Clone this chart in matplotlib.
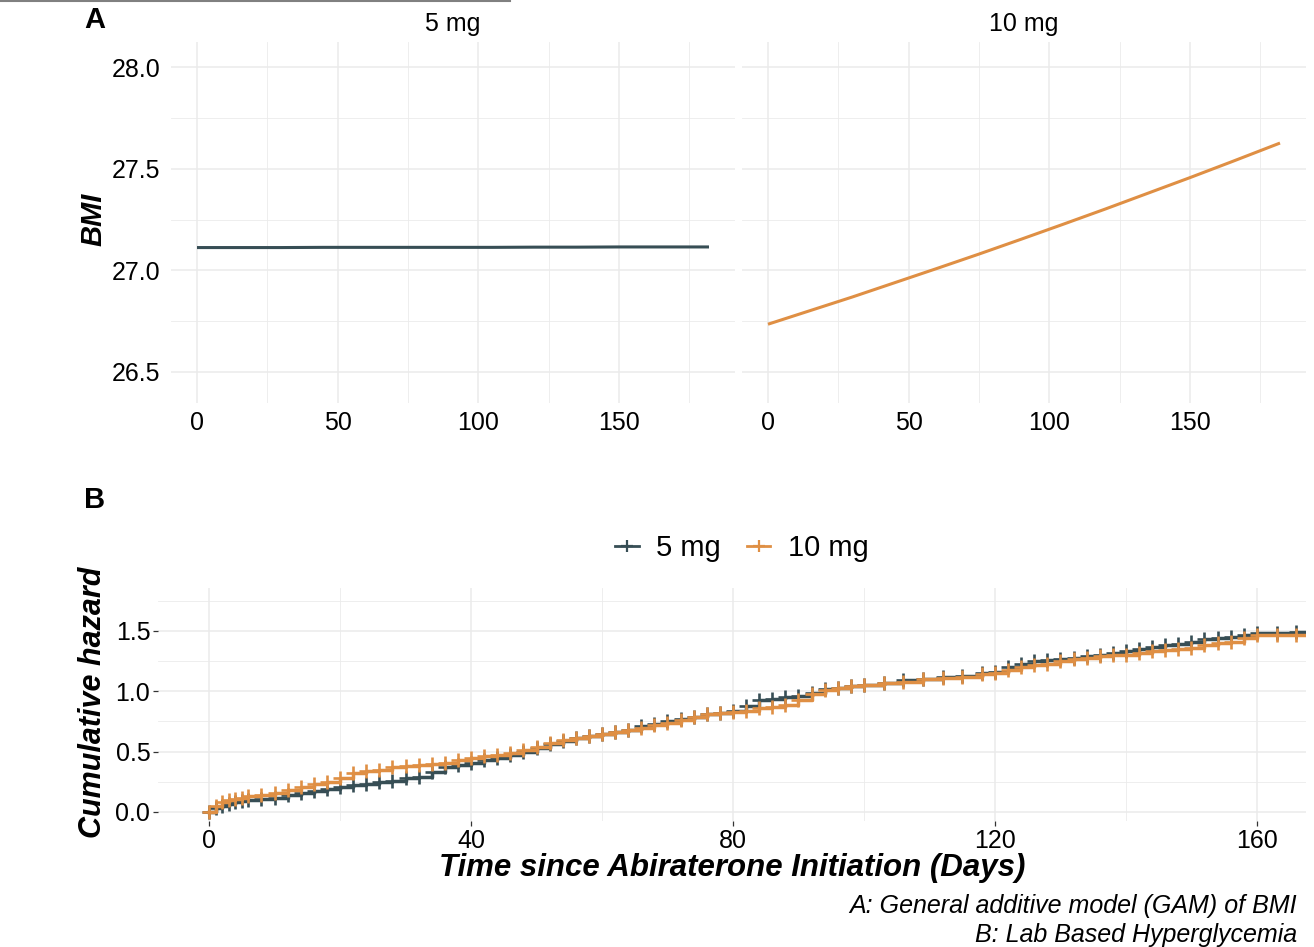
import matplotlib
matplotlib.use('Agg')
import matplotlib.pyplot as plt
from matplotlib.lines import Line2D

plt.rcParams['font.family'] = ['Liberation Sans', 'DejaVu Sans']

# ---------------- data ----------------
doses = ['5 mg', '10 mg']
colors = ['#374E55', '#DF8F44']

gam_days = [0, 15, 30, 45, 60, 75, 90, 105, 120, 135, 150, 165, 182]
bmi_5mg = [27.112, 27.112, 27.112, 27.113, 27.113, 27.113, 27.113, 27.113, 27.114,
           27.114, 27.115, 27.115, 27.115]
bmi_10mg = [26.735, 26.802, 26.869, 26.939, 27.009, 27.080, 27.153, 27.227, 27.302,
            27.379, 27.456, 27.535, 27.626]

haz_days = [0, 1, 2, 3, 4, 5, 6, 8, 10, 12, 14, 16, 18, 20, 22, 24, 26, 28, 30, 32,
            34, 36, 38, 40, 42, 44, 46, 48, 50, 52, 54, 56, 58, 60, 62, 64, 66, 68, 70,
            72, 74, 76, 78, 80, 82, 84, 86, 88, 90, 92, 94, 96, 98, 100, 103, 106, 109,
            112, 115, 118, 120, 122, 124, 126, 128, 130, 132, 134, 136, 138, 140, 142,
            144, 146, 148, 150, 152, 154, 156, 158, 160, 163, 166, 170]
haz_5mg = [0.00, 0.03, 0.05, 0.07, 0.08, 0.09, 0.10, 0.11, 0.12, 0.14, 0.16, 0.17, 0.19,
           0.21, 0.22, 0.23, 0.25, 0.26, 0.28, 0.29, 0.33, 0.37, 0.39, 0.41, 0.43, 0.45,
           0.47, 0.50, 0.53, 0.56, 0.59, 0.61, 0.63, 0.65, 0.66, 0.68, 0.71, 0.73, 0.75,
           0.77, 0.79, 0.81, 0.82, 0.84, 0.88, 0.93, 0.94, 0.95, 0.96, 0.99, 1.02, 1.03,
           1.04, 1.05, 1.07, 1.09, 1.10, 1.12, 1.13, 1.15, 1.16, 1.20, 1.23, 1.25, 1.26,
           1.27, 1.28, 1.29, 1.30, 1.32, 1.33, 1.35, 1.37, 1.38, 1.39, 1.41, 1.43, 1.44,
           1.45, 1.47, 1.48, 1.48, 1.49, 1.50]
haz_10mg = [0.00, 0.05, 0.08, 0.10, 0.11, 0.12, 0.13, 0.14, 0.16, 0.18, 0.21, 0.23, 0.25,
            0.28, 0.32, 0.34, 0.35, 0.37, 0.38, 0.39, 0.40, 0.41, 0.43, 0.45, 0.46, 0.47,
            0.49, 0.51, 0.54, 0.57, 0.60, 0.61, 0.63, 0.65, 0.66, 0.68, 0.70, 0.72, 0.74,
            0.76, 0.79, 0.81, 0.82, 0.83, 0.84, 0.86, 0.87, 0.89, 0.93, 0.98, 1.01, 1.03,
            1.04, 1.05, 1.07, 1.08, 1.10, 1.11, 1.12, 1.14, 1.15, 1.18, 1.20, 1.22, 1.23,
            1.25, 1.27, 1.28, 1.29, 1.30, 1.30, 1.32, 1.33, 1.34, 1.35, 1.36, 1.38, 1.40,
            1.41, 1.44, 1.47, 1.47, 1.47, 1.48]

a_xticks = [0, 50, 100, 150]
a_yticks = [26.5, 27.0, 27.5, 28.0]
b_xticks = [0, 40, 80, 120, 160]
b_yticks = [0.0, 0.5, 1.0, 1.5]

caption = ['A: General additive model (GAM) of BMI', 'B: Lab Based Hyperglycemia']

# ---------------- layout ----------------
W, H = 1314, 947
fig = plt.figure(figsize=(W / 100, H / 100), dpi=100)


def ax_at(x0, y0, x1, y1):
    return fig.add_axes([x0 / W, 1 - y1 / H, (x1 - x0) / W, (y1 - y0) / H])


def fx(x):
    return x / W


def fy(y):
    return 1 - y / H


GRID = '#EBEBEB'


def style_axes(ax, ticks=False):
    for s in ax.spines.values():
        s.set_visible(False)
    ax.set_axisbelow(True)
    ax.grid(True, which='major', color=GRID, lw=1.1)
    ax.grid(True, which='minor', color=GRID, lw=0.6)
    if ticks:
        ax.tick_params(which='major', length=3.5, width=0.9, color='#333333',
                       labelsize=18, pad=2)
    else:
        ax.tick_params(which='major', length=0, labelsize=18)
    ax.tick_params(which='minor', length=0)


# ---- Panel A ----
a_series = [bmi_5mg, bmi_10mg]
a_boxes = [(171.4, 42, 734.6, 403), (742.4, 42, 1305.6, 403)]
for i, (box, vals) in enumerate(zip(a_boxes, a_series)):
    ax = ax_at(*box)
    style_axes(ax)
    ax.plot(gam_days, vals, color=colors[i], lw=2.2, solid_capstyle='butt')
    ax.set_xlim(-9.1, 191.1)
    ax.set_ylim(26.3475, 28.123)
    ax.set_xticks(a_xticks)
    ax.set_xticks([25, 75, 125, 175], minor=True)
    ax.set_yticks(a_yticks)
    ax.set_yticks([26.75, 27.25, 27.75], minor=True)
    ax.set_xticklabels([str(v) for v in a_xticks])
    ax.tick_params(axis='x', pad=6)
    ax.tick_params(axis='y', pad=8)
    if i == 0:
        ax.set_yticklabels([f'{v:.1f}' for v in a_yticks])
    else:
        ax.set_yticklabels([])
    cx = (box[0] + box[2]) / 2
    fig.text(fx(cx), fy(24), doses[i], ha='center', va='center', fontsize=18)

fig.text(fx(93), fy(219), 'BMI', rotation=90, ha='center', va='center',
         fontsize=21, fontweight='bold', style='italic')
fig.text(fx(95), fy(20), 'A', ha='center', va='center', fontsize=21, fontweight='bold')

# ---- Panel B ----
axb = ax_at(158, 588, 1306, 821)
style_axes(axb, ticks=True)
for vals, c in zip([haz_5mg, haz_10mg], colors):
    axb.plot(haz_days, vals, color=c, lw=2.5, drawstyle='steps-post',
             marker='+', markersize=10, mew=1.9, clip_on=True)
axb.set_xlim(-7.8, 167.5)
axb.set_ylim(-0.0746, 1.856)
axb.set_xticks(b_xticks)
axb.set_xticks([20, 60, 100, 140], minor=True)
axb.set_yticks(b_yticks)
axb.set_yticks([0.25, 0.75, 1.25, 1.75], minor=True)
axb.set_xticklabels([str(v) for v in b_xticks])
axb.set_yticklabels([f'{v:.1f}' for v in b_yticks])

fig.text(fx(93), fy(702), 'Cumulative hazard', rotation=90, ha='center', va='center',
         fontsize=22, fontweight='bold', style='italic')
fig.text(fx(732), fy(868), 'Time since Abiraterone Initiation (Days)', ha='center',
         va='center', fontsize=22.5, fontweight='bold', style='italic')
fig.text(fx(95), fy(500), 'B', ha='center', va='center', fontsize=21, fontweight='bold')

handles = [Line2D([], [], color=c, lw=2.0, marker='+', markersize=9, mew=1.6)
           for c in colors]
fig.legend(handles, doses, loc='center', bbox_to_anchor=(fx(742), fy(548)), ncol=2,
           frameon=False, fontsize=21, handlelength=0.8, handletextpad=0.6,
           columnspacing=0.9)

fig.text(fx(1297), fy(906), caption[0], ha='right', va='center', fontsize=18,
         style='italic')
fig.text(fx(1297), fy(935), caption[1], ha='right', va='center', fontsize=18,
         style='italic')

fig.add_artist(Line2D([0, 510 / W], [fy(0.8), fy(0.8)], color='#808080', lw=1.5))

fig.savefig('out.png', dpi=100)
